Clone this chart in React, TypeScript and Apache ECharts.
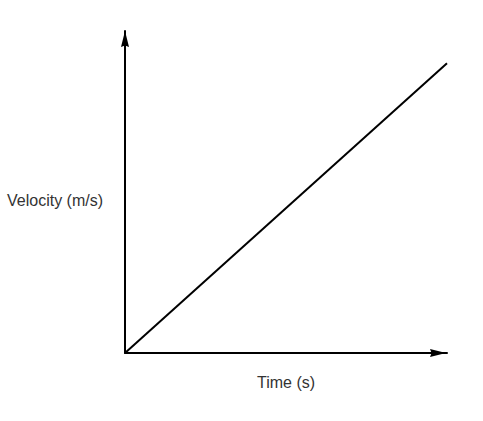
import React, { useEffect, useRef } from "react";
import * as echarts from "echarts";

const timeValues: number[] = [0, 10];
const velocityValues: number[] = [0, 9];
const xAxisTitle = "Time (s)";
const yAxisTitle = "Velocity (m/s)";

const arrowPath = "path://M5 0L10 20L5 18L0 20Z";

export default function App() {
  const ref = useRef<HTMLDivElement>(null);
  useEffect(() => {
    if (!ref.current) return;
    const chart = echarts.init(ref.current, null, { renderer: "svg" });
    const data = timeValues.map((t, i) => [t, velocityValues[i]]);
    const axisCommon = {
      type: "value" as const,
      min: 0,
      max: 10,
      axisTick: { show: false },
      axisLabel: { show: false },
      splitLine: { show: false },
    };
    const nameFont = {
      color: "#333",
      fontSize: 16,
      fontFamily: "Liberation Sans, Arial, sans-serif",
    };
    chart.setOption({
      animation: false,
      backgroundColor: "#ffffff",
      grid: { left: 125, right: 36, top: 31, bottom: 68 },
      xAxis: {
        ...axisCommon,
        name: xAxisTitle,
        nameLocation: "middle",
        nameGap: 21,
        nameTextStyle: nameFont,
        axisLine: {
          show: true,
          symbol: ["none", arrowPath],
          symbolSize: [8, 16],
          symbolOffset: [0, -9],
          lineStyle: { color: "#000", width: 2 },
        },
      },
      yAxis: {
        ...axisCommon,
        name: yAxisTitle,
        nameLocation: "middle",
        nameRotate: 0,
        nameGap: 22,
        nameTextStyle: { ...nameFont, verticalAlign: "top" },
        axisLine: {
          show: true,
          symbol: ["none", arrowPath],
          symbolSize: [8, 16],
          symbolOffset: [0, -8],
          lineStyle: { color: "#000", width: 2 },
        },
      },
      series: [
        {
          type: "line",
          data,
          showSymbol: false,
          symbol: "none",
          clip: false,
          silent: true,
          lineStyle: { color: "#000", width: 2 },
        },
      ],
    });
    return () => chart.dispose();
  }, []);
  return (
    <div
      ref={ref}
      style={{ position: "fixed", left: 0, top: 0, width: 483, height: 421 }}
    />
  );
}
